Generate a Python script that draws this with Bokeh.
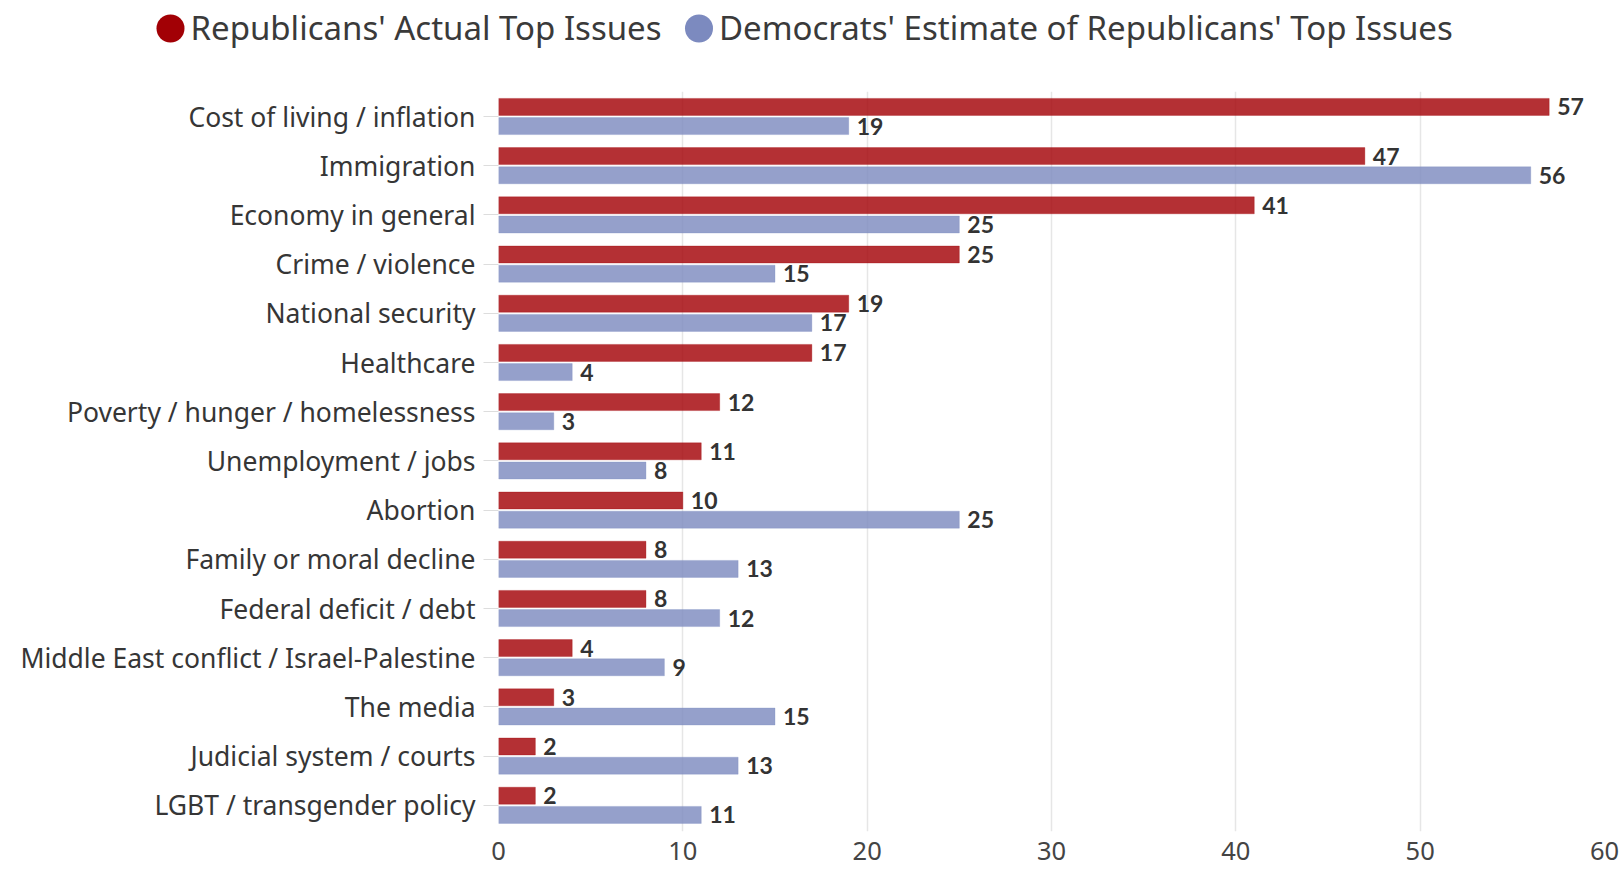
from bokeh.plotting import figure
from bokeh.models import ColumnDataSource, Range1d, FixedTicker
from bokeh.transform import dodge
from bokeh.core.properties import value
from bokeh.embed import file_html
from bokeh.resources import INLINE

categories = [
    "Cost of living / inflation",
    "Immigration",
    "Economy in general",
    "Crime / violence",
    "National security",
    "Healthcare",
    "Poverty / hunger / homelessness",
    "Unemployment / jobs",
    "Abortion",
    "Family or moral decline",
    "Federal deficit / debt",
    "Middle East conflict / Israel-Palestine",
    "The media",
    "Judicial system / courts",
    "LGBT / transgender policy",
]
republicans_actual = [57, 47, 41, 25, 19, 17, 12, 11, 10, 8, 8, 4, 3, 2, 2]
democrats_estimate = [19, 56, 25, 15, 17, 4, 3, 8, 25, 13, 12, 9, 15, 13, 11]
series_names = ["Republicans' Actual Top Issues", "Democrats' Estimate of Republicans' Top Issues"]
series_colors = ["#A20005", "#7C8ABF"]
x_ticks = [0, 10, 20, 30, 40, 50, 60]

FONT = "Noto Sans"
W = 1621
H = 870
LEG_H = 56
MAIN_H = H - LEG_H

# ---------------- legend strip (separate root, pixel coordinates) ----------------
leg = figure(width=W, height=LEG_H, x_range=Range1d(0, W), y_range=Range1d(LEG_H, 0),
             toolbar_location=None, output_backend="svg", min_border=0,
             outline_line_color=None)
leg.axis.visible = False
leg.grid.visible = False
leg_src = ColumnDataSource(dict(x=[170, 698.5], y=[28, 28], name=series_names, color=series_colors))
leg.scatter("x", "y", source=leg_src, size=28, fill_color="color", line_color=None)
leg.text(x=dodge("x", 20), y=dodge("y", -1.5), text="name", source=leg_src, text_font=value(FONT),
         text_font_size="33px", text_color="#3a3a3a", text_baseline="middle", text_align="left")

# ---------------- main chart ----------------
MB_LEFT, MB_RIGHT, MB_TOP, MB_BOTTOM = 498, W - 1604, 35, 39
frame_h = MAIN_H - MB_TOP - MB_BOTTOM
row_px = 49.2
top_pad = 25 / row_px
span = frame_h / row_px

n = len(categories)
src = ColumnDataSource(dict(
    y=list(range(n)),
    rep=republicans_actual,
    dem=democrats_estimate,
    rep_lbl=[str(v) for v in republicans_actual],
    dem_lbl=[str(v) for v in democrats_estimate],
))

p = figure(width=W, height=MAIN_H, x_range=Range1d(0, 60),
           y_range=Range1d(-top_pad + span, -top_pad),
           toolbar_location=None, output_backend="svg",
           min_border_left=MB_LEFT, min_border_right=MB_RIGHT,
           min_border_top=MB_TOP, min_border_bottom=MB_BOTTOM,
           outline_line_color=None)

off = 0.195
bh = 0.345
p.hbar(y=dodge("y", -off), right="rep", left=0, height=bh, source=src,
       fill_color=series_colors[0], fill_alpha=0.81, line_color=series_colors[0], line_alpha=0.3)
p.hbar(y=dodge("y", off), right="dem", left=0, height=bh, source=src,
       fill_color=series_colors[1], fill_alpha=0.81, line_color=series_colors[1], line_alpha=0.3)

p.text(x="rep", y=dodge("y", -off), text="rep_lbl", source=src, x_offset=8,
       text_font=value("Lato"), text_font_style="bold", text_font_size="23px",
       text_color="#333333", text_baseline="middle", text_align="left")
p.text(x="dem", y=dodge("y", off), text="dem_lbl", source=src, x_offset=8,
       text_font=value("Lato"), text_font_style="bold", text_font_size="23px",
       text_color="#333333", text_baseline="middle", text_align="left")

# axes
p.xaxis.ticker = FixedTicker(ticks=x_ticks)
p.xaxis.axis_line_color = None
p.xaxis.major_tick_line_color = None
p.xaxis.minor_tick_line_color = None
p.xaxis.major_label_text_font = FONT
p.xaxis.major_label_text_font_size = "25.5px"
p.xaxis.major_label_text_color = "#444444"
p.xaxis.major_label_standoff = 4

p.yaxis.ticker = FixedTicker(ticks=list(range(n)))
p.yaxis.major_label_overrides = {i: c for i, c in enumerate(categories)}
p.yaxis.axis_line_color = None
p.yaxis.minor_tick_line_color = None
p.yaxis.major_tick_in = 0
p.yaxis.major_tick_out = 15
p.yaxis.major_tick_line_color = "#dddddd"
p.yaxis.major_label_text_font = FONT
p.yaxis.major_label_text_font_size = "26.5px"
p.yaxis.major_label_text_color = "#363636"
p.yaxis.major_label_standoff = 8

p.ygrid.grid_line_color = None
p.xgrid.ticker = FixedTicker(ticks=x_ticks)
p.xgrid.grid_line_color = "#e6e6e6"
p.xgrid.grid_line_width = 1.5

open("out.html", "w").write(file_html([leg, p], INLINE))
